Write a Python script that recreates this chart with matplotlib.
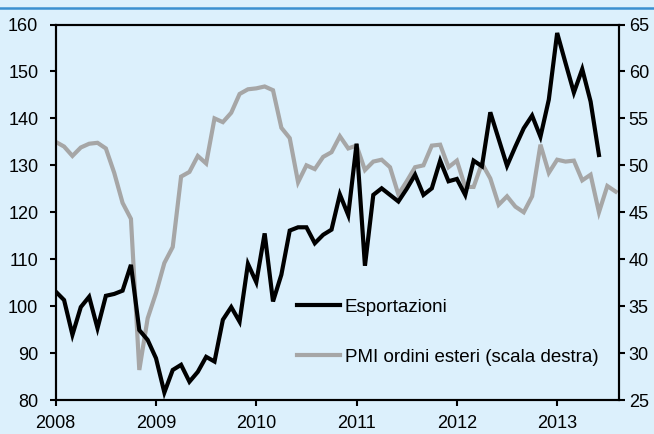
import matplotlib
matplotlib.use("Agg")
import matplotlib.pyplot as plt
from matplotlib.lines import Line2D

plt.rcParams['font.family'] = ['Liberation Sans', 'DejaVu Sans']

# Monthly data, Jan 2008 onwards
esportazioni = [103.1, 101.3, 93.9, 99.8, 102.0, 95.3, 102.2, 102.6, 103.3, 108.8, 94.9, 92.8,
                88.9, 81.6, 86.4, 87.5, 83.9, 86.0, 89.2, 88.2, 97.1, 99.8, 96.7, 109.0,
                105.1, 115.5, 101.0, 106.7, 116.1, 116.8, 116.8, 113.4, 115.2, 116.3, 123.8, 119.4,
                134.6, 108.6, 123.7, 125.1, 123.7, 122.3, 125.0, 128.0, 123.7, 125.1, 131.0, 126.6,
                127.1, 123.7, 131.0, 129.8, 141.3, 135.6, 129.9, 134.0, 137.9, 140.6, 136.1, 144.0,
                158.2, 151.8, 145.5, 150.5, 143.6, 132.2]
pmi_ordini_esteri = [52.5, 52.0, 51.0, 51.9, 52.3, 52.4, 51.8, 49.2, 46.0, 44.3, 28.2, 33.7,
                     36.4, 39.6, 41.3, 48.8, 49.3, 51.0, 50.2, 55.0, 54.6, 55.6, 57.6, 58.1,
                     58.2, 58.4, 58.0, 54.0, 52.9, 48.2, 50.0, 49.6, 50.9, 51.4, 53.1, 51.8,
                     52.1, 49.5, 50.4, 50.6, 49.8, 46.9, 48.3, 49.8, 50.0, 52.1, 52.2, 49.8,
                     50.5, 47.7, 47.7, 50.2, 48.6, 45.8, 46.7, 45.6, 45.0, 46.7, 52.2, 49.2,
                     50.6, 50.4, 50.5, 48.4, 49.0, 45.0, 47.8, 47.2]
year_labels = ['2008', '2009', '2010', '2011', '2012', '2013']
left_ticks = [80, 90, 100, 110, 120, 130, 140, 150, 160]
right_ticks = [25, 30, 35, 40, 45, 50, 55, 60, 65]
labels = ['Esportazioni', 'PMI ordini esteri (scala destra)']

bg = '#DCF0FC'
black = '#000000'
gray = '#A6A6A6'

fig = plt.figure(figsize=(6.54, 4.34), dpi=100, facecolor=bg)
ax = fig.add_axes([0.0852, 0.0783, 0.8613, 0.8652])
ax.set_facecolor(bg)
ax2 = ax.twinx()

x1 = list(range(len(esportazioni)))
x2 = list(range(len(pmi_ordini_esteri)))

ax2.plot(x2, pmi_ordini_esteri, color=gray, lw=3.0, solid_joinstyle='miter', zorder=2)
ax.plot(x1, esportazioni, color=black, lw=3.0, solid_joinstyle='miter', zorder=3)
ax.set_zorder(ax2.get_zorder() + 1)
ax.patch.set_visible(False)
ax2.patch.set_visible(True)
ax2.patch.set_facecolor(bg)

ax.set_xlim(0, 67.4)
ax.set_ylim(80, 160)
ax2.set_ylim(25, 65)
ax.set_xticks([12 * i for i in range(len(year_labels))])
ax.set_xticklabels(year_labels)
ax.set_yticks(left_ticks)
ax2.set_yticks(right_ticks)

for a in (ax, ax2):
    for s in a.spines.values():
        s.set_linewidth(1.5)
        s.set_color('black')

ax.tick_params(axis='x', direction='out', length=4.5, width=1.5, pad=6, labelsize=13)
ax.tick_params(axis='y', direction='out', length=4.5, width=1.5, pad=8, labelsize=13)
ax2.tick_params(axis='y', direction='out', length=4.5, width=1.5, pad=2.5, labelsize=13)

# top decorative blue line
fig.add_artist(Line2D([0, 1], [1 - 8 / 434, 1 - 8 / 434], transform=fig.transFigure,
                      color='#3A8FD0', lw=1.8))

handles = [Line2D([], [], color=black, lw=3.0), Line2D([], [], color=gray, lw=3.0)]
fig.legend(handles, labels, loc='center left', bbox_to_anchor=(296.7 / 654, 1 - 332 / 434),
           frameon=False, fontsize=13.5, handlelength=2.3, handletextpad=0.25,
           labelspacing=1.75, borderpad=0, borderaxespad=0)

fig.savefig('out.png', dpi=100, facecolor=bg)
